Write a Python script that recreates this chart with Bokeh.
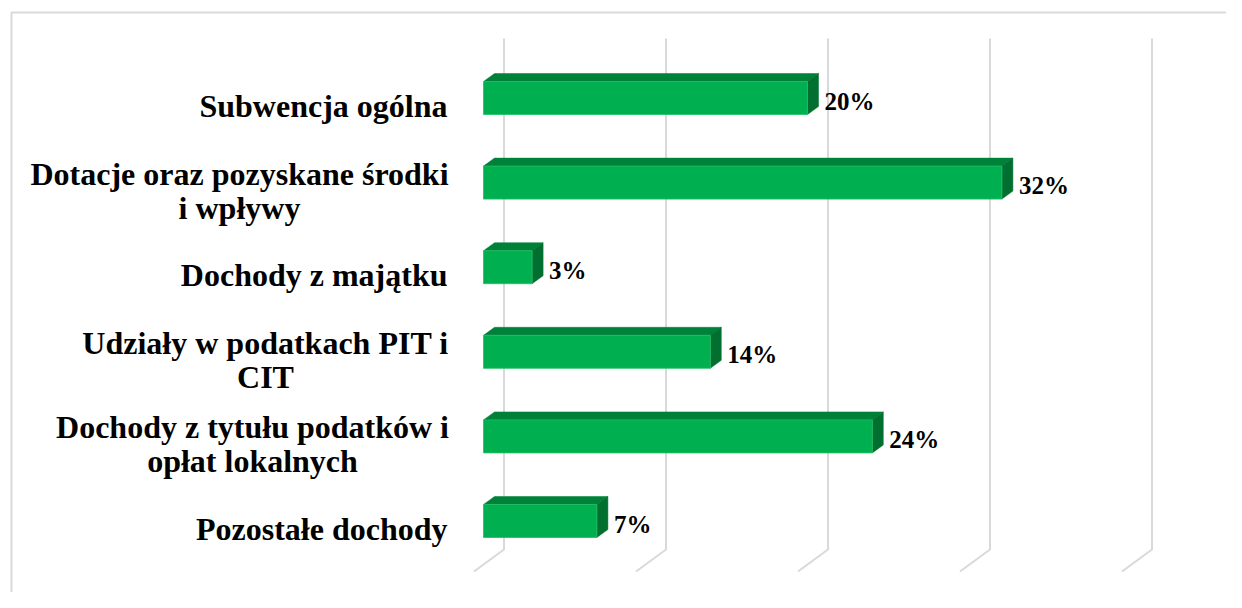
from bokeh.plotting import figure
from bokeh.models import Range1d, ColumnDataSource
from bokeh.embed import file_html
from bokeh.resources import INLINE
from bokeh.core.properties import value

# ---- data ----
categories = [
    "Subwencja ogólna",
    "Dotacje oraz pozyskane środki\ni wpływy",
    "Dochody z majątku",
    "Udziały w podatkach PIT i\nCIT",
    "Dochody z tytułu podatków i\nopłat lokalnych",
    "Pozostałe dochody",
]
shares = [20, 32, 3, 14, 24, 7]
grid_ticks = [0, 10, 20, 30, 40]

# ---- layout (pixels of the reference picture) ----
W, H = 1226, 592
OFF = 0
X0 = 483 - OFF         # front-face zero
PXP = 16.2             # pixels per percent
Y0 = 97.5 - OFF        # first bar centre
PITCH = 84.6           # pixels between bars


def dx(px):            # pixel length -> data units (x)
    return px / PXP


def dy(px):            # pixel length -> data units (y, downwards positive)
    return px / PITCH


def xd(px_ref):
    return (px_ref - OFF - X0) / PXP


def yd(py_ref):
    return (py_ref - OFF - Y0) / PITCH


p = figure(width=W, height=H, output_backend="svg", toolbar_location=None,
           x_range=Range1d(-X0 / PXP, (W - X0) / PXP),
           y_range=Range1d((H - Y0) / PITCH, -Y0 / PITCH),
           min_border=0, background_fill_color="white", border_fill_color="white")
p.xaxis.visible = False
p.yaxis.visible = False
p.grid.visible = False
p.outline_line_color = None

GRID = "#d9d9d9"

# chart frame (top and left edges visible)
p.line([xd(11), xd(11), xd(1300)], [yd(700), yd(12), yd(12)], line_color=GRID, line_width=2)

# gridlines: back wall vertical + floor slant
back = dx(20.5)
for t in grid_ticks:
    p.line([t + back, t + back, t + back - dx(30)],
           [yd(38), yd(549), yd(571)], line_color=GRID, line_width=2)

# bars
idx = list(range(len(categories)))
bh = dy(33)
ddx, ddy = dx(11), dy(8)
src = ColumnDataSource(dict(y=idx, v=shares))

tops_x, tops_y, side_x, side_y = [], [], [], []
for i, v in zip(idx, shares):
    t, b = i - bh / 2, i + bh / 2
    tops_x.append([0, v, v + ddx, ddx])
    tops_y.append([t, t, t - ddy, t - ddy])
    side_x.append([v, v + ddx, v + ddx, v])
    side_y.append([t, t - ddy, b - ddy, b])

p.patches(tops_x, tops_y, fill_color="#008139", line_color="#008139", line_width=0.5)
p.patches(side_x, side_y, fill_color="#006F30", line_color="#006F30", line_width=0.5)
p.hbar(y="y", right="v", left=0, height=bh, source=src,
       fill_color="#00B050", line_color="#1FBF63", line_width=0.8)

# value labels
src_v = ColumnDataSource(dict(x=[v + ddx + dx(6) for v in shares],
                              y=[i + dy(3) for i in idx],
                              t=[f"{s}%" for s in shares]))
p.text(x="x", y="y", text="t", source=src_v, text_font=value("Liberation Serif"),
       text_font_style="bold", text_font_size="25px", text_color="#000000",
       text_align="left", text_baseline="middle")

# category labels
RIGHT = 447
LINE = 34
centres = {1: 239, 3: 265, 4: 252}
sx, sy, st = [], [], []
mx, my, mt = [], [], []
for i, c in enumerate(categories):
    lines = c.split("\n")
    n = len(lines)
    for k, ln in enumerate(lines):
        yy = i + dy(8) + dy(LINE * (k - (n - 1) / 2))
        if n == 1:
            sx.append(xd(RIGHT)); sy.append(yy); st.append(ln)
        else:
            mx.append(xd(centres[i])); my.append(yy); mt.append(ln)

p.text(x=sx, y=sy, text=st, text_font=value("Liberation Serif"),
       text_font_style="bold", text_font_size="32px", text_color="#000000",
       text_align="right", text_baseline="middle")
p.text(x=mx, y=my, text=mt, text_font=value("Liberation Serif"),
       text_font_style="bold", text_font_size="32px", text_color="#000000",
       text_align="center", text_baseline="middle")

open("out.html", "w").write(file_html(p, INLINE))
